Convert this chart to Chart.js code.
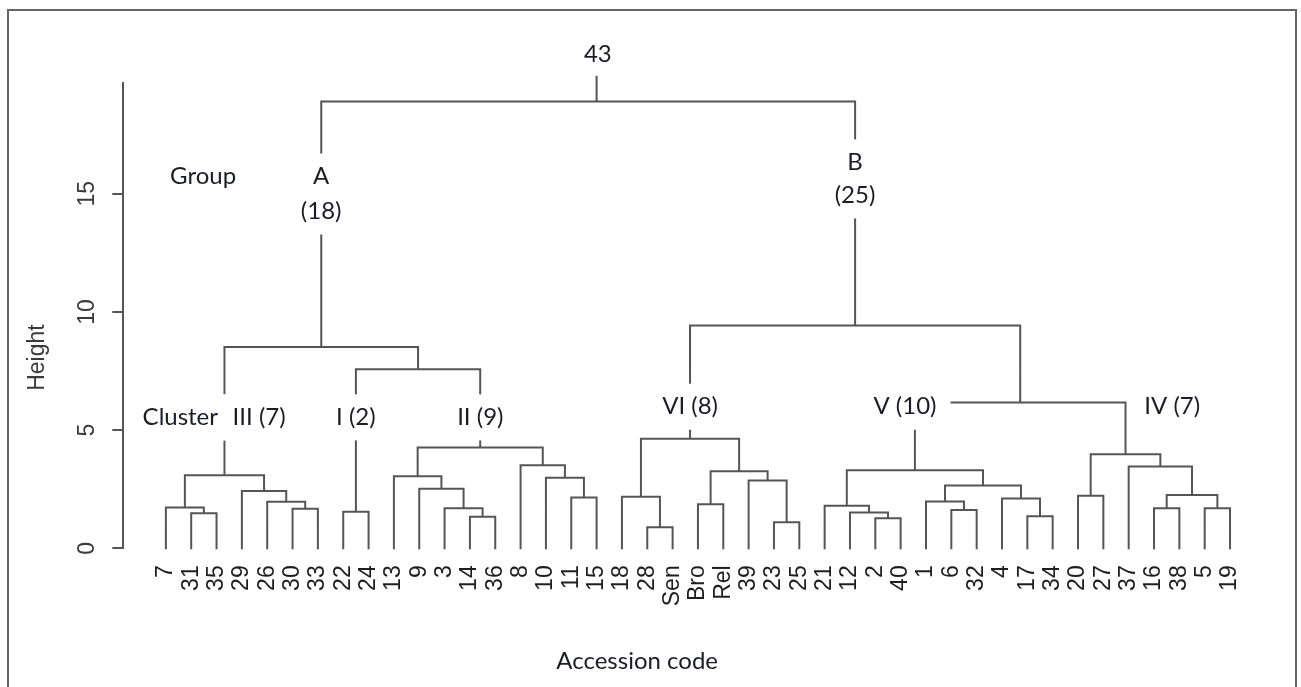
<!DOCTYPE html>
<html>
<head>
<meta charset="utf-8">
<script src="https://cdn.jsdelivr.net/npm/chart.js@4.4.0/dist/chart.umd.min.js"></script>
<style>
  body { margin: 0; background: #fff; }
  #wrap { position: relative; width: 1301px; height: 687px; }
</style>
</head>
<body>
<div id="wrap"><canvas id="dendro"></canvas></div>
<script>
// leaves in plotted order, left to right
const leafLabels = ['7','31','35','29','26','30','33','22','24','13','9','3','14','36','8','10','11','15',
  '18','28','Sen','Bro','Rel','39','23','25','21','12','2','40','1','6','32','4','17','34',
  '20','27','37','16','38','5','19'];

// merges, R hclust style: negative = leaf position, positive = earlier merge number
const mergeLeft  = [-2, -1, -6, -5, -4, 2, -8, -13, -12, -11, -10, -17, -16, -15, 11, 7, 6,
  -20, -19, -22, -25, -24, 20, 19, -29, -28, -27, -32, -31, -35, -34, 29, 27,
  -37, -40, -42, 35, -39, 34, 33, 24, 17];
const mergeRight = [-3, 1, -7, 3, 4, 5, -9, -14, 8, 9, 10, -18, 12, 13, 14, 15, 16,
  -21, 18, -23, -26, 21, 22, 23, -30, 25, 26, -33, 28, -36, 30, 31, 32,
  -38, -41, -43, 36, 37, 38, 39, 40, 41];
const mergeHeight = [1.48, 1.73, 1.67, 1.97, 2.42, 3.09, 1.55, 1.33, 1.69, 2.52, 3.05, 2.15, 2.98, 3.51, 4.26, 7.58, 8.52,
  0.89, 2.18, 1.86, 1.10, 2.87, 3.26, 4.64, 1.27, 1.52, 1.80, 1.62, 1.98, 1.36, 2.11, 2.66, 3.30,
  2.22, 1.69, 1.69, 2.26, 3.46, 3.98, 6.17, 9.43, 18.9];

const yTicks = [0, 5, 10, 15];

// annotations written onto the figure (x in leaf units, y in height units)
const noteText = ['43', 'Group', 'A', '(18)', 'B', '(25)', 'Cluster', 'III (7)', 'I (2)', 'II (9)', 'VI (8)', 'V (10)', 'IV (7)'];
const noteX = [18.05, 2.47, 7.13, 7.13, 28.2, 28.2, 1.57, 4.68, 8.5, 13.41, 21.69, 30.17, 40.72];
const noteY = [20.9, 15.73, 15.73, 14.25, 16.33, 14.93, 5.54, 5.54, 5.54, 5.54, 5.99, 5.99, 5.99];
const rootStub = { x: 18.0, top: 19.95 };

// dendrogram layout: leaf i sits at x = i, a merge sits midway over its two children
const nodeX = [], nodeH = [];
function childPos(ref) {
  return ref < 0 ? [-ref, 0] : [nodeX[ref - 1], nodeH[ref - 1]];
}
const segments = [];
mergeLeft.forEach((l, i) => {
  const [xl, hl] = childPos(l);
  const [xr, hr] = childPos(mergeRight[i]);
  const h = mergeHeight[i];
  nodeX[i] = (xl + xr) / 2;
  nodeH[i] = h;
  segments.push({x: xl, y: hl}, {x: xl, y: h}, {x: xr, y: h}, {x: xr, y: hr}, {x: xr, y: null});
});
segments.push({x: rootStub.x, y: mergeHeight[mergeHeight.length - 1]}, {x: rootStub.x, y: rootStub.top});

const lineColor = '#555';
const rFont = '"Liberation Sans", Arial, sans-serif';
const noteFont = 'Lato, "Open Sans", sans-serif';

const overlay = {
  id: 'overlay',
  afterDatasetsDraw(chart) {
    const ctx = chart.ctx;
    const xs = chart.scales.x, ys = chart.scales.y;
    ctx.save();

    // frame round the figure
    ctx.strokeStyle = '#666';
    ctx.lineWidth = 2;
    ctx.beginPath();
    ctx.moveTo(8, 687); ctx.lineTo(8, 10); ctx.lineTo(1296, 10); ctx.lineTo(1296, 687);
    ctx.stroke();

    // y tick labels, rotated like R
    ctx.fillStyle = '#3a3a3a';
    ctx.font = '23px ' + rFont;
    ctx.textAlign = 'center';
    ctx.textBaseline = 'middle';
    yTicks.forEach(v => {
      ctx.save();
      ctx.translate(88, ys.getPixelForValue(v));
      ctx.rotate(-Math.PI / 2);
      ctx.fillText(String(v), 0, 0);
      ctx.restore();
    });

    ctx.save();
    ctx.translate(38, ys.getPixelForValue(8.07));
    ctx.rotate(-Math.PI / 2);
    ctx.fillText('Height', 0, 0);
    ctx.restore();

    // annotations, each knocking a white gap out of the lines behind it
    ctx.font = '24px ' + noteFont;
    noteText.forEach((t, i) => {
      const px = xs.getPixelForValue(noteX[i]);
      const py = ys.getPixelForValue(noteY[i]);
      const w = ctx.measureText(t).width;
      if (t !== '43' && t !== 'Group') {
        ctx.fillStyle = '#fff';
        ctx.fillRect(px - w / 2 - 14, py - 23, w + 28, 46);
      }
      ctx.fillStyle = '#1c1c28';
      ctx.fillText(t, px, py);
    });

    ctx.fillText('Accession code', xs.getPixelForValue(19.6), chart.chartArea.bottom + 113);
    ctx.restore();
  }
};

new Chart(document.getElementById('dendro'), {
  type: 'scatter',
  data: {
    datasets: [{
      data: segments,
      showLine: true,
      spanGaps: false,
      borderColor: lineColor,
      borderWidth: 2,
      pointRadius: 0,
      pointHoverRadius: 0,
      borderCapStyle: 'square',
      borderJoinStyle: 'miter',
      clip: false
    }]
  },
  options: {
    responsive: true,
    maintainAspectRatio: false,
    animation: false,
    layout: { padding: { top: 82.7, right: 28.4, left: 0, bottom: 0 } },
    plugins: { legend: { display: false }, tooltip: { enabled: false } },
    scales: {
      x: {
        type: 'linear',
        min: -0.68,
        max: 44.68,
        afterBuildTicks: s => { s.ticks = leafLabels.map((_, i) => ({ value: i + 1 })); },
        afterFit: s => { s.height = 138.7; },
        ticks: {
          autoSkip: false,
          minRotation: 90,
          maxRotation: 90,
          padding: 17,
          color: '#1e1e1e',
          font: { family: rFont, size: 23 },
          callback: (v, i) => leafLabels[i]
        },
        grid: { display: false, drawTicks: false },
        border: { display: false }
      },
      y: {
        min: 0,
        max: 19.7,
        afterBuildTicks: s => { s.ticks = yTicks.map(v => ({ value: v })); },
        afterFit: s => { s.width = 123.3; },
        ticks: { display: false },
        grid: { drawOnChartArea: false, tickLength: 11, color: '#555', lineWidth: 2 },
        border: { color: '#555', width: 2 }
      }
    }
  },
  plugins: [overlay]
});
</script>
</body>
</html>
